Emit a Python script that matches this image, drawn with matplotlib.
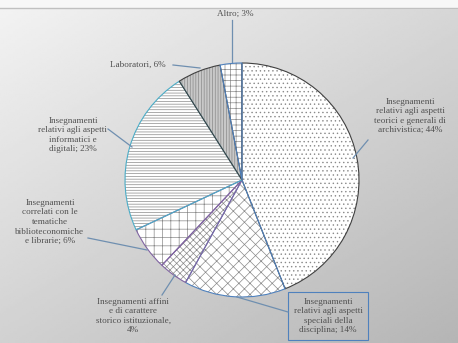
import numpy as np
import matplotlib.pyplot as plt

W, H = 458, 343

labels = [
    "Insegnamenti\nrelativi agli aspetti\nteorici e generali di\narchivistica; 44%",
    "Insegnamenti\nrelativi agli aspetti\nspeciali della\ndisciplina; 14%",
    "Insegnamenti affini\ne di carattere\nstorico istituzionale,\n4%",
    "Insegnamenti\ncorrelati con le\ntematiche\nbiblioteconomiche\ne librarie; 6%",
    "Insegnamenti\nrelativi agli aspetti\ninformatici e\ndigitali; 23%",
    "Laboratori, 6%",
    "Altro; 3%",
]
shares = [44, 14, 4, 6, 23, 6, 3]

hatches = ['....', 'xxx', 'xxxxx', '++', '------', '||||||', '+++']
faces = ['white', 'white', 'white', 'white', 'white', '#c8c8c8', 'white']
edges = ['#404040', '#4f81bd', '#8064a2', '#8064a2', '#4bacc6', '#404040', '#4f81bd']

# label centre, leader start, leader end (pixels from top-left)
label_pos = [(410, 116), (328, 316), (133, 316), (50, 222), (73, 135), (138, 65), (235, 14)]
leaders = [((368, 140), (353, 158)), ((288, 312), (237, 297)), ((162, 295), (175, 275)),
           ((88, 238), (147, 250)), ((108, 129), (132, 147)), ((173, 65), (200, 68)),
           ((232, 20), (232, 62))]

plt.rcParams['hatch.linewidth'] = 0.5
fig = plt.figure(figsize=(W / 100, H / 100), dpi=100)
ax = fig.add_axes([0, 0, 1, 1])

# background gradient
xx, yy = np.meshgrid(np.linspace(0, 1, 200), np.linspace(0, 1, 150))
grad = 0.95 - 0.2 * (0.55 * xx + 0.65 * yy)
ax.imshow(grad, cmap='gray', vmin=0, vmax=1, extent=[0, W, 0, H - 8], aspect='auto', zorder=0)
ax.axhspan(H - 8, H, color='#f7f7f7', zorder=0)
ax.axhline(H - 8, color='#c0c0c0', lw=1, zorder=1)

center = (242, H - 180)
wedges, _ = ax.pie(shares, startangle=90, counterclock=False, radius=117, center=center,
                   frame=True)
for w, h, f in zip(wedges, hatches, faces):
    w.set_facecolor(f)
    w.set_hatch(h)
    w.set_edgecolor('#8a8a8a')
    w.set_linewidth(0)
    w.set_zorder(2)

wedges2, _ = ax.pie(shares, startangle=90, counterclock=False, radius=117, center=center,
                    frame=True)
for w, e in zip(wedges2, edges):
    w.set_fill(False)
    w.set_edgecolor(e)
    w.set_linewidth(0.8)
    w.set_zorder(3)

ax.set_xlim(0, W)
ax.set_ylim(0, H)
ax.set_aspect('auto')
ax.axis('off')

for i, (lab, (tx, ty), (p0, p1)) in enumerate(zip(labels, label_pos, leaders)):
    kw = {}
    if i == 1:
        kw['bbox'] = dict(boxstyle='square,pad=0.6', fc='none', ec='#4f81bd', lw=0.8)
    ax.text(tx, H - ty, lab, ha='center', va='center', fontsize=6.6, color='#505050',
            family='Liberation Serif', linespacing=1.25, zorder=4, **kw)
    ax.plot([p0[0], p1[0]], [H - p0[1], H - p1[1]], color='#6f8fb0', lw=0.9, zorder=4)

fig.savefig('out.png', dpi=100)
